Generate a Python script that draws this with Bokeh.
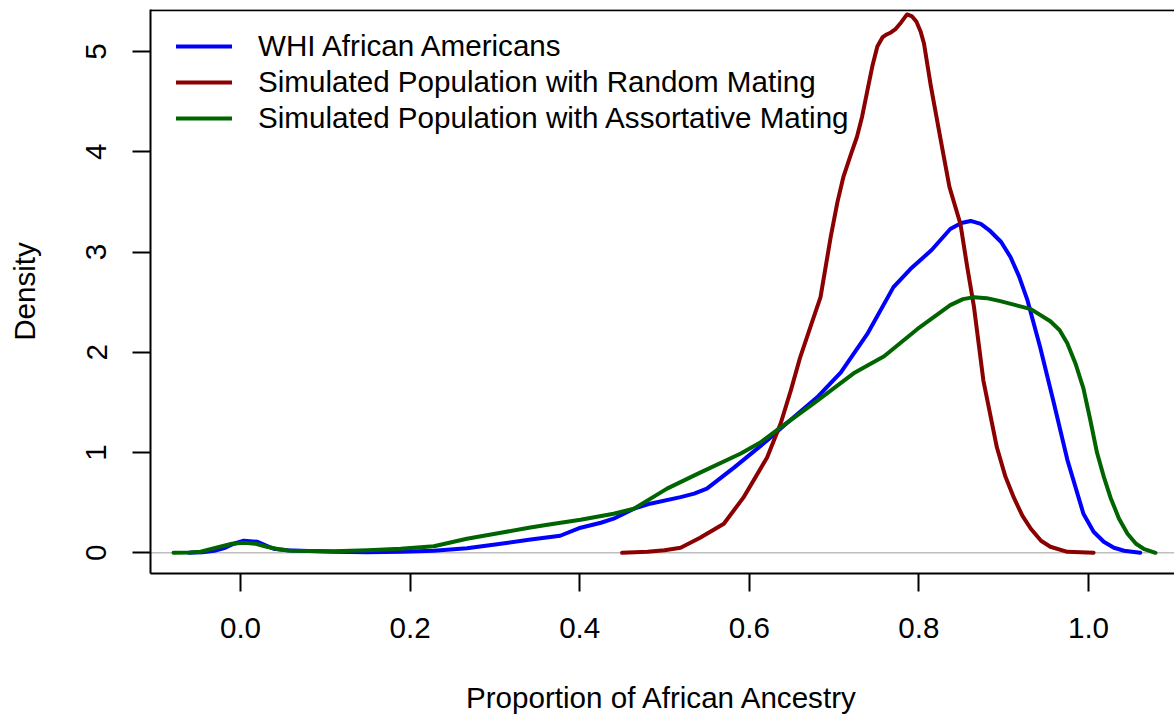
from bokeh.plotting import figure
from bokeh.models import Range1d, FixedTicker, Span, Legend, LegendItem
from bokeh.embed import file_html
from bokeh.resources import INLINE

# Density estimates of the proportion of African ancestry
whi_x = [-0.061, -0.045, -0.031, -0.018, -0.008, 0.004, 0.02, 0.039, 0.055, 0.071,
         0.11, 0.149, 0.19, 0.228, 0.267, 0.307, 0.34, 0.377, 0.401, 0.425, 0.44,
         0.464, 0.483, 0.519, 0.535, 0.55, 0.582, 0.621, 0.641, 0.68, 0.708, 0.739,
         0.77, 0.79, 0.815, 0.837, 0.85, 0.861, 0.873, 0.884, 0.897, 0.908, 0.918,
         0.928, 0.943, 0.959, 0.975, 0.994, 1.006, 1.018, 1.03, 1.042, 1.061]
whi_y = [0.0, 0.005, 0.02, 0.05, 0.09, 0.12, 0.11, 0.04, 0.025, 0.02,
         0.01, 0.005, 0.01, 0.02, 0.045, 0.09, 0.13, 0.17, 0.25, 0.30, 0.34,
         0.44, 0.49, 0.555, 0.59, 0.64, 0.85, 1.12, 1.27, 1.55, 1.8, 2.18,
         2.65, 2.83, 3.02, 3.23, 3.29, 3.31, 3.28, 3.21, 3.1, 2.95, 2.76,
         2.52, 2.05, 1.5, 0.93, 0.39, 0.21, 0.11, 0.05, 0.02, 0.0]

random_x = [0.45, 0.48, 0.5, 0.519, 0.542, 0.57, 0.593, 0.621, 0.637, 0.649, 0.66,
            0.672, 0.684, 0.696, 0.704, 0.711, 0.72, 0.727, 0.733, 0.739, 0.745,
            0.751, 0.757, 0.762, 0.767, 0.772, 0.779, 0.786, 0.792, 0.797, 0.802,
            0.806, 0.814, 0.825, 0.836, 0.849, 0.857, 0.865, 0.876, 0.892, 0.902,
            0.912, 0.922, 0.932, 0.944, 0.955, 0.975, 1.006]
random_y = [0.0, 0.01, 0.025, 0.05, 0.15, 0.29, 0.55, 0.95, 1.29, 1.62, 1.95,
            2.25, 2.55, 3.15, 3.5, 3.75, 3.98, 4.15, 4.35, 4.6, 4.85,
            5.05, 5.14, 5.17, 5.19, 5.22, 5.29, 5.37, 5.35, 5.3, 5.2,
            5.08, 4.66, 4.15, 3.65, 3.28, 2.85, 2.45, 1.72, 1.05, 0.76,
            0.55, 0.37, 0.24, 0.12, 0.06, 0.01, 0.0]

assort_x = [-0.079, -0.06, -0.047, -0.024, -0.01, 0.004, 0.018, 0.031, 0.045, 0.059,
            0.11, 0.15, 0.189, 0.228, 0.267, 0.307, 0.34, 0.362, 0.401, 0.44, 0.464,
            0.503, 0.542, 0.59, 0.613, 0.637, 0.676, 0.723, 0.759, 0.798, 0.837,
            0.852, 0.865, 0.88, 0.896, 0.932, 0.955, 0.966, 0.975, 0.985, 0.994,
            1.002, 1.010, 1.018, 1.026, 1.036, 1.046, 1.056, 1.065, 1.079]
assort_y = [0.0, 0.003, 0.01, 0.06, 0.09, 0.10, 0.09, 0.06, 0.035, 0.02,
            0.015, 0.025, 0.04, 0.065, 0.14, 0.2, 0.25, 0.28, 0.33, 0.39, 0.44,
            0.64, 0.80, 0.99, 1.10, 1.25, 1.49, 1.79, 1.96, 2.23, 2.47,
            2.53, 2.55, 2.54, 2.51, 2.43, 2.31, 2.22, 2.09, 1.88, 1.64,
            1.33, 1.0, 0.76, 0.55, 0.34, 0.19, 0.09, 0.04, 0.0]

series_names = ["WHI African Americans",
                "Simulated Population with Random Mating",
                "Simulated Population with Assortative Mating"]
series_colors = ["#0000FF", "#8B0000", "#006400"]

x_ticks = [0.0, 0.2, 0.4, 0.6, 0.8, 1.0]
x_tick_labels = ["0.0", "0.2", "0.4", "0.6", "0.8", "1.0"]
y_ticks = [0, 1, 2, 3, 4, 5]
y_tick_labels = ["0", "1", "2", "3", "4", "5"]
x_title = "Proportion of African Ancestry"
y_title = "Density"

FONT = "Liberation Sans"
FS = "29.6px"

p = figure(width=1174, height=717, output_backend="svg", toolbar_location=None,
           x_range=Range1d(-0.10613, 1.10142), y_range=Range1d(-0.2065, 5.419),
           min_border_left=150, min_border_right=0, min_border_top=9,
           min_border_bottom=144)
p.background_fill_color = "white"
p.border_fill_color = "white"
p.outline_line_color = None
p.grid.visible = False

# zero reference line
p.add_layout(Span(location=0, dimension="width", line_color="#BEBEBE",
                  line_width=1.5, level="underlay"))
# top edge of the box
p.add_layout(Span(location=5.412, dimension="width", line_color="black",
                  line_width=2))

renderers = []
for xs, ys, col in zip([whi_x, random_x, assort_x], [whi_y, random_y, assort_y],
                       series_colors):
    r = p.line(xs, ys, line_color=col, line_width=4, line_join="round",
               line_cap="round")
    renderers.append(r)

legend = Legend(items=[LegendItem(label=n, renderers=[r])
                       for n, r in zip(series_names, renderers)],
                location=(26, 437), orientation="vertical",
                glyph_width=56, glyph_height=36, label_height=36, spacing=0,
                label_standoff=26, padding=0, margin=0,
                background_fill_alpha=0, border_line_color=None,
                label_text_font=FONT, label_text_font_size=FS,
                label_text_color="black")
p.add_layout(legend)

for ax in (p.xaxis[0], p.yaxis[0]):
    ax.axis_line_color = "black"
    ax.axis_line_width = 2
    ax.major_tick_line_color = "black"
    ax.major_tick_line_width = 2
    ax.major_tick_out = 18
    ax.major_tick_in = 0
    ax.minor_tick_line_color = None
    ax.major_label_text_font = FONT
    ax.major_label_text_font_size = FS
    ax.major_label_text_color = "black"
    ax.axis_label_text_font = FONT
    ax.axis_label_text_font_size = FS
    ax.axis_label_text_font_style = "normal"
    ax.axis_label_text_color = "black"

p.xaxis.ticker = FixedTicker(ticks=x_ticks)
p.xaxis.major_label_overrides = dict(zip(x_ticks, x_tick_labels))
p.xaxis.major_label_standoff = 26
p.xaxis.axis_label = x_title
p.xaxis.axis_label_standoff = 40

p.yaxis.ticker = FixedTicker(ticks=y_ticks)
p.yaxis.major_label_overrides = dict(zip(y_ticks, y_tick_labels))
p.yaxis.major_label_orientation = "vertical"
p.yaxis.major_label_standoff = 26
p.yaxis.axis_label = y_title
p.yaxis.axis_label_standoff = 43

open("out.html", "w").write(file_html(p, INLINE))
